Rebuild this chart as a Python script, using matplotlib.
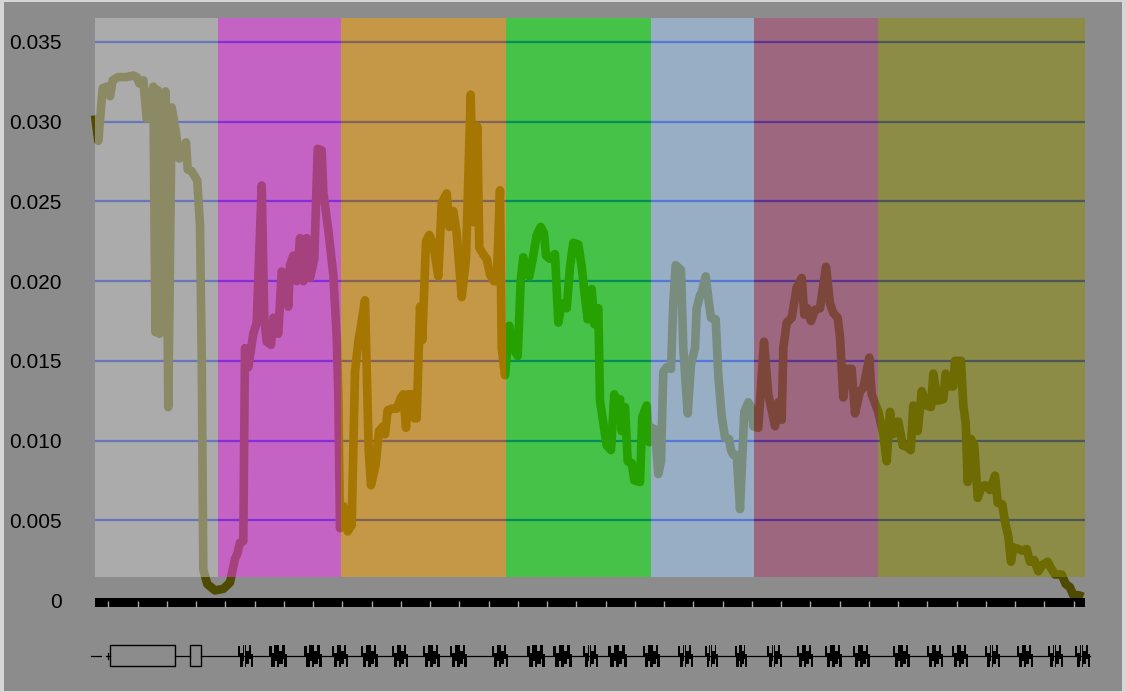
import numpy as np
import matplotlib
matplotlib.use("Agg")
import matplotlib.pyplot as plt
from matplotlib.patches import Rectangle

# ---- signal along the gene (position, score) ----
positions = [
    0, 3.3, 7.7, 11.7, 15, 17.7, 23.3, 31.7, 38.3, 41.7, 44.3, 48.3, 51.7, 58.3,
    60.5, 62.5, 64.5, 66.5, 68.5, 70.5, 73.3, 76.7, 81, 84.3, 91, 92.7, 96.7,
    102.3, 105, 106.7, 108.3,
    112.3, 120, 128.3, 135, 140, 142.3, 145, 148.3, 150, 153.3, 158.3, 161.7,
    166.7, 169.3, 171.7, 176, 178.3, 183.3, 186.7, 191.7, 193.3, 195, 198.3,
    201.7, 205, 208.3, 211.7, 215, 219.3, 222.7, 226.7, 228.3, 233.3, 238.3,
    241.7, 243.3, 245, 248.3, 252.7, 256.7, 260, 263.3, 266, 270, 273.7, 276,
    280.7, 284, 288.3, 290, 292.7, 296.7, 301.7, 306, 308.3, 311, 313.3, 316.7,
    319.3, 321.7, 325, 327.3, 331, 334.3, 338.3, 343.3, 346.7, 351.7, 354.3,
    358.3, 361.7, 366.7, 371, 375.7, 378.3, 382.3, 384.3, 389, 391.7, 395, 399,
    401.7, 405, 406.7, 410, 414.3, 418.3, 422.7, 425.7, 428.3, 431, 434.3,
    437.7, 441.7, 445.7, 449, 451, 455, 460, 463.3, 466.7, 471.7, 475, 478.3,
    483.3, 486.7, 490, 492.7, 496.7, 499.3, 503.3, 505, 511.7, 516, 519.3,
    521.7, 525, 526.7, 530, 532.7, 536.7, 539.3, 545, 547.3, 551.7, 554.3,
    556.7, 560, 563.3, 566, 568.3, 571.7, 576, 578.3, 580.7, 586, 588.3, 592.7,
    596, 600, 601.7, 605, 606.7, 610.7, 614, 616, 620.7, 623.3, 626.7, 630,
    634, 636, 638.3, 641.7, 645, 649.3, 653.3, 656.7, 658.3, 663.3, 669, 673.3,
    680, 683.3, 686.7, 688.3, 691.7, 696.7, 701.7, 706.7, 709.3, 712.3, 716,
    720, 725, 731, 735, 738.3, 742.7, 745, 748.3, 751.7, 756.7, 760, 765,
    768.3, 774.3, 776.7, 783.3, 788.3, 791.7, 795, 798.3, 803.3, 807.7, 812,
    815.7, 818.3, 822.7, 826.7, 831.7, 836, 838.3, 842.7, 848.3, 850.7, 855,
    858.3, 860, 866, 868.3, 870.7, 872.7, 876, 879.3, 882.7, 886.7, 890, 895,
    900, 902.7, 907.3, 910, 913.3, 916, 918.3, 923.3, 927, 931.7, 935, 939.3,
    943.3, 947.3, 952.7, 956, 960, 966.7, 970.7, 975, 978.3, 983.3, 988.3,
]
scores = [
    0.0304, 0.0288, 0.0321, 0.0322, 0.0316, 0.0326, 0.0328, 0.0328, 0.0329,
    0.0328, 0.0324, 0.0326, 0.0302, 0.0322,
    0.0168, 0.0320, 0.0167, 0.0318, 0.0170, 0.0319, 0.0121, 0.0309,
    0.0293, 0.0277, 0.0287, 0.0270, 0.0269, 0.0263, 0.0235, 0.0153, 0.0019,
    0.0010, 0.0006, 0.0007, 0.0011, 0.0026, 0.0029, 0.0036, 0.0037, 0.0158,
    0.0146, 0.0167, 0.0174, 0.0260, 0.0176, 0.0162, 0.0160, 0.0177, 0.0167,
    0.0206, 0.0202, 0.0184, 0.0210, 0.0216, 0.0200, 0.0227, 0.0200, 0.0227,
    0.0202, 0.0214, 0.0283, 0.0282, 0.0256, 0.0232, 0.0204, 0.0165, 0.0129,
    0.0045, 0.0059, 0.0043, 0.0047, 0.0143, 0.0162, 0.0172, 0.0188, 0.0094,
    0.0072, 0.0085, 0.0106, 0.0109, 0.0104, 0.0119, 0.0120, 0.0120, 0.0127,
    0.0129, 0.0108, 0.0129, 0.0129, 0.0114, 0.0114, 0.0184, 0.0163, 0.0225,
    0.0229, 0.0223, 0.0203, 0.0249, 0.0255, 0.0234, 0.0244, 0.0230, 0.0190,
    0.0214, 0.0317, 0.0237, 0.0297, 0.0221, 0.0216, 0.0214, 0.0204, 0.0200,
    0.0200, 0.0257, 0.0158, 0.0141, 0.0172, 0.0158, 0.0153, 0.0200, 0.0215,
    0.0207, 0.0203, 0.0214, 0.0229, 0.0234, 0.0230, 0.0216, 0.0214, 0.0217,
    0.0174, 0.0186, 0.0183, 0.0209, 0.0224, 0.0223, 0.0209, 0.0190, 0.0176,
    0.0195, 0.0173, 0.0183, 0.0125, 0.0097, 0.0094, 0.0129, 0.0122, 0.0126,
    0.0106, 0.0121, 0.0087, 0.0086, 0.0075, 0.0074, 0.0115, 0.0122, 0.0099,
    0.0108, 0.0107, 0.0079, 0.0087, 0.0143, 0.0146, 0.0145, 0.0186, 0.0210,
    0.0207, 0.0158, 0.0117, 0.0148, 0.0158, 0.0183, 0.0191, 0.0193, 0.0203,
    0.0186, 0.0177, 0.0176, 0.0141, 0.0115, 0.0102, 0.0101, 0.0094, 0.0091,
    0.0091, 0.0057, 0.0118, 0.0124, 0.0120, 0.0109, 0.0108, 0.0162, 0.0129,
    0.0109, 0.0124, 0.0113, 0.0158, 0.0174, 0.0177, 0.0196, 0.0202, 0.0179,
    0.0183, 0.0175, 0.0182, 0.0183, 0.0209, 0.0186, 0.0180, 0.0177, 0.0165,
    0.0127, 0.0145, 0.0145, 0.0117, 0.0131, 0.0133, 0.0152, 0.0129, 0.0118,
    0.0104, 0.0087, 0.0118, 0.0104, 0.0112, 0.0097, 0.0096, 0.0094, 0.0122,
    0.0106, 0.0131, 0.0122, 0.0121, 0.0142, 0.0125, 0.0126, 0.0142, 0.0134,
    0.0134, 0.0150, 0.0150, 0.0122, 0.0111, 0.0074, 0.0101, 0.0097, 0.0064,
    0.0071, 0.0072, 0.0069, 0.0078, 0.0061, 0.0060, 0.0049, 0.0040, 0.0024,
    0.0033, 0.0032, 0.0031, 0.0032, 0.0024, 0.0025, 0.0018, 0.0022, 0.0024,
    0.0020, 0.0016, 0.0016, 0.0010, 0.0008, 0.0003, 0.0003, 0.0002,
]

# ---- shaded domains ----
domain_edges = [0, 123, 246, 411, 556, 659, 783, 990]
domain_colors = ["#cacaca", "#fc3cfc", "#fca404", "#00f804",
                 "#a4d0fc", "#ac4474", "#8c8c04"]
domain_floor = 0.00144

# ---- axis ----
y_ticks = [0, 0.005, 0.010, 0.015, 0.020, 0.025, 0.030, 0.035]
y_labels = ["0", "0.005", "0.010", "0.015", "0.020", "0.025", "0.030", "0.035"]
y_top = 0.036505
x_span = 990

# ---- gene model ----
utr_boxes = [(14.7, 79.7), (95, 106.3)]
exon_clusters = [
    (143, 158), (174, 192), (209, 227), (237, 253), (266, 283), (297, 313),
    (328, 345), (355, 372), (397, 413), (432, 450), (458, 477), (488, 503),
    (513, 532), (548, 565), (583, 598), (610, 623), (640, 652), (672, 687),
    (702, 718), (730, 747), (758, 775), (798, 815), (832, 848), (857, 873),
    (890, 905), (922, 938), (953, 968), (980, 995),
]
# sub-blocks of one exon cluster: (rel start, rel end, low, high)
cluster_blocks = [
    (0.00, 0.14, -0.10, 0.62), (0.12, 0.32, -0.70, 0.18),
    (0.30, 0.42, -0.35, 0.70), (0.44, 0.56, -0.70, 0.70),
    (0.55, 0.76, -0.55, 0.32), (0.74, 0.87, -0.20, 0.70),
    (0.85, 1.00, -0.70, 0.08),
]

W, H = 1125, 692
BG = "#8c8c8c"
LINE = "#4e4a00"
GRID = "#0a23af"

plt.rcParams["font.family"] = ["Liberation Sans", "DejaVu Sans"]
fig = plt.figure(figsize=(W / 100, H / 100), dpi=100, facecolor=BG)


def frac_box(x0, y0, x1, y1):
    return [x0 / W, 1 - y1 / H, (x1 - x0) / W, (y1 - y0) / H]


# main signal panel
ax = fig.add_axes(frac_box(95, 18, 1085, 600))
ax.set_facecolor("none")
ax.set_xlim(0, x_span)
ax.set_ylim(0, y_top)
for s in ax.spines.values():
    s.set_visible(False)
ax.set_xticks([])
ax.set_yticks(y_ticks)
ax.set_yticklabels(y_labels)
ax.tick_params(axis="y", length=0, pad=24, labelsize=15, labelcolor="black")
for t in y_ticks[1:]:
    ax.axhline(t, color=GRID, lw=1.6, zorder=1)

ax.plot(positions, scores, color=LINE, lw=6.2, solid_joinstyle="round",
        solid_capstyle="butt", zorder=2, clip_on=False)

for i, c in enumerate(domain_colors):
    x0, x1 = domain_edges[i], domain_edges[i + 1]
    ax.add_patch(Rectangle((x0, domain_floor), x1 - x0, y_top - domain_floor,
                           facecolor=c, edgecolor="none", alpha=0.5, zorder=3,
                           clip_on=False))

# ruler bar
axr = fig.add_axes(frac_box(95, 598, 1085, 606.7))
axr.set_facecolor("black")
axr.set_xlim(0, x_span)
axr.set_ylim(0, 1)
for s in axr.spines.values():
    s.set_visible(False)
axr.set_yticks([])
axr.set_xticks(np.arange(13.3, x_span, 29.25))
axr.tick_params(axis="x", direction="in", length=4.0, width=1.0,
                color="#a8a8a8", labelbottom=False)

# gene model track
axg = fig.add_axes(frac_box(95, 640, 1085, 671.4))
axg.set_xlim(0, x_span)
axg.set_ylim(-1, 1)
axg.axis("off")
axg.plot([-4, 6], [0, 0], color="black", lw=0.9, clip_on=False)
axg.plot([11, 14.7], [0, 0], color="black", lw=0.9, clip_on=False)
axg.plot([12.5, 12.5], [-0.2, 0.2], color="black", lw=0.9, clip_on=False)
axg.plot([79.7, 95], [0, 0], color="black", lw=0.9, clip_on=False)
axg.plot([106.3, 995], [0, 0], color="black", lw=0.9, clip_on=False)
for x0, x1 in utr_boxes:
    axg.add_patch(Rectangle((x0, -0.68), x1 - x0, 1.36, facecolor="none",
                            edgecolor="black", lw=1.0, clip_on=False))
for x0, x1 in exon_clusters:
    w = x1 - x0
    for r0, r1, lo, hi in cluster_blocks:
        axg.add_patch(Rectangle((x0 + r0 * w, lo), (r1 - r0) * w, hi - lo,
                                facecolor="black", edgecolor="none",
                                clip_on=False))

# light frame around the canvas
for box in [(0, 0, 4, H), (W - 3, 0, W, H), (0, 0, W, 1.5), (0, H - 1.5, W, H)]:
    fig.add_artist(Rectangle((box[0] / W, 1 - box[3] / H),
                             (box[2] - box[0]) / W, (box[3] - box[1]) / H,
                             transform=fig.transFigure, facecolor="#d6d6d6",
                             edgecolor="none"))

fig.savefig("out.png", dpi=100, facecolor=BG)
